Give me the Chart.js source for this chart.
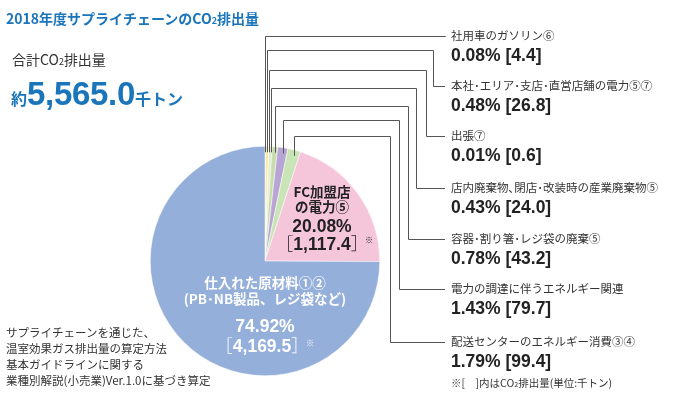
<!DOCTYPE html>
<html>
<head>
<meta charset="utf-8">
<script src="https://cdn.jsdelivr.net/npm/chart.js@4"></script>
<style>
  body { margin: 0; background: #fff; }
  #wrap { position: relative; width: 690px; height: 396px; overflow: hidden;
          font-family: "Noto Sans CJK JP", "Noto Sans", sans-serif; color: #333; }
  #c { position: absolute; left: 0; top: 0; }
  .t { position: absolute; white-space: nowrap; line-height: 1; }
  .num { font-family: "Liberation Sans", "Noto Sans CJK JP", sans-serif; font-weight: bold; }
  .br { font-family: "Noto Sans CJK JP", sans-serif; font-weight: 300; }
</style>
</head>
<body>
<div id="wrap">
  <canvas id="c" width="690" height="396"></canvas>
</div>
<script>
// データ（時計回り、12時の位置から）
const categories = [
    '社用車のガソリン⑥',
    '本社･エリア･支店･直営店舗の電力⑤⑦',
    '出張⑦',
    '店内廃棄物､閉店･改装時の産業廃棄物⑤',
    '容器･割り箸･レジ袋の廃棄⑤',
    '電力の調達に伴うエネルギー関連',
    '配送センターのエネルギー消費③④',
    'FC加盟店の電力⑤',
    '仕入れた原材料①②'
];
const percents = [0.08, 0.48, 0.01, 0.43, 0.78, 1.43, 1.79, 20.08, 74.92];
const amounts = [4.4, 26.8, 0.6, 24.0, 43.2, 79.7, 99.4, 1117.4, 4169.5];
const totalAmount = 5565.0;

const sliceColors = ['#a9d9f2', '#fde7a8', '#ffffff', '#dcecc9', '#c9dcae', '#b8a5d3', '#c9e4b6', '#f5c5da', '#94afd9'];

// 引き出し線のレイアウト
const rowY = [36, 86, 136, 188, 239, 289, 342];
const turnY = [36, 50, 70, 88, 106, 120, 136];
const turnX = [445, 433, 426, 416, 408, 399, 390];
const LINE_END = 445;
const LABEL_X = 451;

const wrap = document.getElementById('wrap');

function fmt(v) {
    return v.toLocaleString('en-US', { minimumFractionDigits: 1, maximumFractionDigits: 1 });
}

function addText(html, x, y, style, center) {
    const d = document.createElement('div');
    d.className = 't';
    d.innerHTML = html;
    d.style.left = x + 'px';
    d.style.top = y + 'px';
    d.style.transform = center ? 'translate(-50%,-50%)' : 'translateY(-50%)';
    Object.assign(d.style, style || {});
    wrap.appendChild(d);
    return d;
}

// 見出し
addText('2018年度サプライチェーンのCO<span style="font-size:9px">2</span>排出量', 6, 18,
    { color: '#1b75bb', fontSize: '14px', fontWeight: 'bold' });
addText('合計CO<span style="font-size:9px">2</span>排出量', 12, 59, { color: '#333', fontSize: '14px' });
addText('約<span class="num" style="font-size:33px;letter-spacing:-0.3px">' + fmt(totalAmount) + '</span>千トン',
    11, 93, { color: '#1b75bb', fontSize: '16px', fontWeight: 'bold' });

// 左下の注記
const notes = ['サプライチェーンを通じた、', '温室効果ガス排出量の算定方法', '基本ガイドラインに関する', '業種別解説(小売業)Ver.1.0に基づき算定'];
notes.forEach((n, i) => addText(n, 6, 333 + i * 16, { fontSize: '11.5px', color: '#333' }));

// 右側のラベル
for (let i = 0; i < 7; i++) {
    addText(categories[i], LABEL_X, rowY[i], { fontSize: '11.5px', color: '#333' });
    addText(percents[i].toFixed(2) + '% [' + fmt(amounts[i]) + ']', LABEL_X, rowY[i] + 20,
        { fontSize: '17.5px', color: '#222' }).classList.add('num');
}
addText('※[　]内はCO<span style="font-size:7px">2</span>排出量(単位:千トン)', LABEL_X, 383, { fontSize: '10.5px', color: '#333' });

// 円の中のラベル
addText('FC加盟店', 322, 192, { fontSize: '13.5px', fontWeight: 'bold', color: '#222' }, true);
addText('の電力⑤', 322, 207, { fontSize: '13.5px', fontWeight: 'bold', color: '#222' }, true);
addText(percents[7].toFixed(2) + '%', 322, 227, { fontSize: '17.5px', color: '#222' }, true).classList.add('num');
addText('<span class="br">［</span>' + fmt(amounts[7]) + '<span class="br">］</span>', 322, 244,
    { fontSize: '17.5px', color: '#222' }, true).classList.add('num');
addText('※', 369, 240, { fontSize: '8px', color: '#222' }, true);

addText('仕入れた原材料①②', 265, 283, { fontSize: '13.5px', fontWeight: 'bold', color: '#fff' }, true);
addText('(PB･NB製品、レジ袋など)', 265, 299, { fontSize: '13.5px', fontWeight: 'bold', color: '#fff' }, true);
addText(percents[8].toFixed(2) + '%', 265, 327, { fontSize: '17.5px', color: '#fff' }, true).classList.add('num');
addText('<span class="br">［</span>' + fmt(amounts[8]) + '<span class="br">］</span>', 262, 346,
    { fontSize: '17.5px', color: '#fff' }, true).classList.add('num');
addText('※', 310, 343, { fontSize: '8px', color: '#fff' }, true);

// 引き出し線
const leaderLines = {
    id: 'leaderLines',
    afterDatasetsDraw(chart) {
        const ctx = chart.ctx;
        const meta = chart.getDatasetMeta(0);
        ctx.save();
        ctx.strokeStyle = '#555';
        ctx.lineWidth = 1;
        for (let i = 0; i < 7; i++) {
            const p = meta.data[i].getProps(['x', 'y', 'startAngle', 'endAngle', 'outerRadius'], true);
            const a = (p.startAngle + p.endAngle) / 2;
            const x0 = Math.round(p.x + Math.cos(a) * p.outerRadius) + 0.5;
            const y0 = p.y + Math.sin(a) * (p.outerRadius - 6);
            const ty = turnY[i] + 0.5;
            const tx = turnX[i] + 0.5;
            const ry = rowY[i] + 0.5;
            ctx.beginPath();
            ctx.moveTo(x0, y0);
            ctx.lineTo(x0, ty);
            ctx.lineTo(tx, ty);
            ctx.lineTo(tx, ry);
            ctx.lineTo(LINE_END, ry);
            ctx.stroke();
        }
        ctx.restore();
    }
};

new Chart(document.getElementById('c').getContext('2d'), {
    type: 'pie',
    data: {
        labels: categories,
        datasets: [{
            data: percents,
            backgroundColor: sliceColors,
            borderColor: '#ffffff',
            borderWidth: 0.5
        }]
    },
    options: {
        responsive: false,
        animation: false,
        layout: { padding: { left: 150, right: 310, top: 146, bottom: 20 } },
        plugins: {
            legend: { display: false },
            tooltip: { enabled: false }
        }
    },
    plugins: [leaderLines]
});
</script>
</body>
</html>
